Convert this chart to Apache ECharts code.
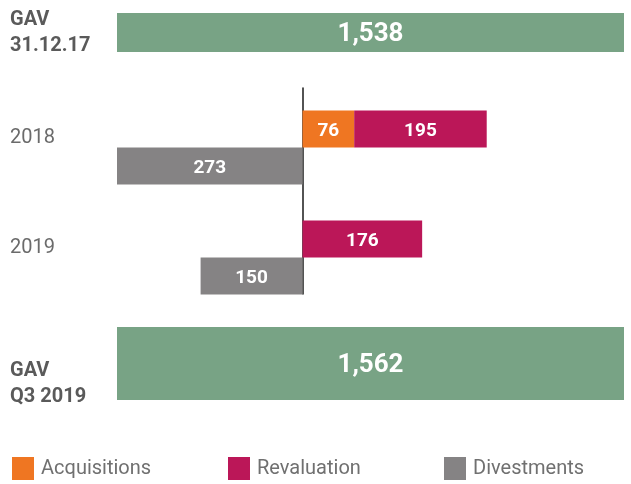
<!DOCTYPE html>
<html>
<head>
<meta charset="utf-8">
<script src="https://cdn.jsdelivr.net/npm/echarts@6/dist/echarts.min.js"></script>
<style>
  html, body { margin: 0; padding: 0; background: #fff; }
  #chart { width: 631px; height: 484px; }
</style>
</head>
<body>
<div id="chart"></div>
<script>
// GAV start / end
var gavStartLabel = ['GAV\n31.12.17']
var gavStart = [1538]
var gavEndLabel = ['GAV\nQ3 2019']
var gavEnd = [1562]

// movements per year
var years = ['2018', '2019']
var acquisitions = [76, null]
var revaluation = [195, 176]
var divestments = [-273, -150]

var green = '#78a385'
var orange = '#ef7622'
var magenta = '#bb1758'
var grey = '#858384'
var font = 'Roboto'

var myChart = echarts.init(document.getElementById('chart'))

var hidden = { show: false }

function valueLabel(size) {
  return {
    show: true,
    position: 'inside',
    offset: [0, 2],
    color: '#fff',
    fontFamily: font,
    fontWeight: 'bold',
    fontSize: size,
    formatter: function (p) { return Math.abs(p.value).toLocaleString('en-US') }
  }
}

// spacer lines push the text off the band centre
function gavLabel(spaceTop) {
  return {
    align: 'left',
    margin: 107,
    formatter: function (v) {
      var lines = v.split('\n').map(function (s) { return '{b|' + s + '}' })
      if (spaceTop) lines.unshift('{sp| }')
      return lines.join('\n')
    },
    rich: {
      b: { color: '#5a5a5a', fontFamily: font, fontWeight: 'bold', fontSize: 20, lineHeight: 26 },
      sp: { fontSize: 10, lineHeight: spaceTop || 1, height: spaceTop || 1 }
    }
  }
}

function legendAt(name, left) {
  return {
    data: [name],
    left: left,
    top: 457,
    padding: 0,
    icon: 'rect',
    itemWidth: 22,
    itemHeight: 23,
    selectedMode: false,
    textStyle: { color: '#707070', fontFamily: font, fontSize: 20, padding: [4, 0, 0, 2] }
  }
}

var option = {
  animation: false,
  grid: [
    { left: 117, right: 7, top: 13, height: 39 },
    { left: 117, right: 7, top: 92.5, height: 220 },
    { left: 117, right: 7, top: 327, height: 73 },
    { left: 117, right: 7, top: 88, height: 206 }
  ],
  xAxis: [
    { gridIndex: 0, type: 'value', min: 0, max: 'dataMax', show: false },
    { gridIndex: 1, type: 'value', min: -273, max: 473, axisLine: hidden, axisTick: hidden, axisLabel: hidden, splitLine: hidden },
    { gridIndex: 2, type: 'value', min: 0, max: 'dataMax', show: false },
    { gridIndex: 3, type: 'value', min: -273, max: 473, axisLine: hidden, axisTick: hidden, axisLabel: hidden, splitLine: hidden }
  ],
  yAxis: [
    { gridIndex: 0, type: 'category', data: gavStartLabel, axisLine: hidden, axisTick: hidden, axisLabel: gavLabel(0) },
    {
      gridIndex: 1, type: 'category', data: years, inverse: true,
      axisLine: { show: false, onZero: false }, axisTick: hidden,
      axisLabel: {
        align: 'left', margin: 107,
        formatter: function (v) { return '{y|' + v + '}\n{sp| }' },
        rich: {
          y: { color: '#6b6b6b', fontFamily: font, fontSize: 20, lineHeight: 22 },
          sp: { fontSize: 10, lineHeight: 20, height: 20 }
        }
      }
    },
    { gridIndex: 2, type: 'category', data: gavEndLabel, axisLine: hidden, axisTick: hidden, axisLabel: gavLabel(40) },
    {
      gridIndex: 3, type: 'category', data: [''],
      axisLine: { show: true, onZero: true, lineStyle: { color: '#1a1a1a', width: 1.5 } },
      axisTick: hidden, axisLabel: hidden
    }
  ],
  legend: [
    legendAt('Acquisitions', 12),
    legendAt('Revaluation', 228),
    legendAt('Divestments', 444)
  ],
  series: [
    {
      name: 'GAV 31.12.17', type: 'bar', xAxisIndex: 0, yAxisIndex: 0,
      data: gavStart, barWidth: 39, itemStyle: { color: green }, label: valueLabel(26)
    },
    {
      name: 'Acquisitions', type: 'bar', xAxisIndex: 1, yAxisIndex: 1, stack: 'pos',
      data: acquisitions, barWidth: 37, barGap: '0%', itemStyle: { color: orange }, label: valueLabel(19)
    },
    {
      name: 'Revaluation', type: 'bar', xAxisIndex: 1, yAxisIndex: 1, stack: 'pos',
      data: revaluation, barWidth: 37, barGap: '0%', itemStyle: { color: magenta }, label: valueLabel(19)
    },
    {
      name: 'Divestments', type: 'bar', xAxisIndex: 1, yAxisIndex: 1, stack: 'neg',
      data: divestments, barWidth: 37, barGap: '0%', itemStyle: { color: grey }, label: valueLabel(19)
    },
    {
      name: 'GAV Q3 2019', type: 'bar', xAxisIndex: 2, yAxisIndex: 2,
      data: gavEnd, barWidth: 73, itemStyle: { color: green }, label: valueLabel(26)
    }
  ]
}

myChart.setOption(option)
</script>
</body>
</html>
